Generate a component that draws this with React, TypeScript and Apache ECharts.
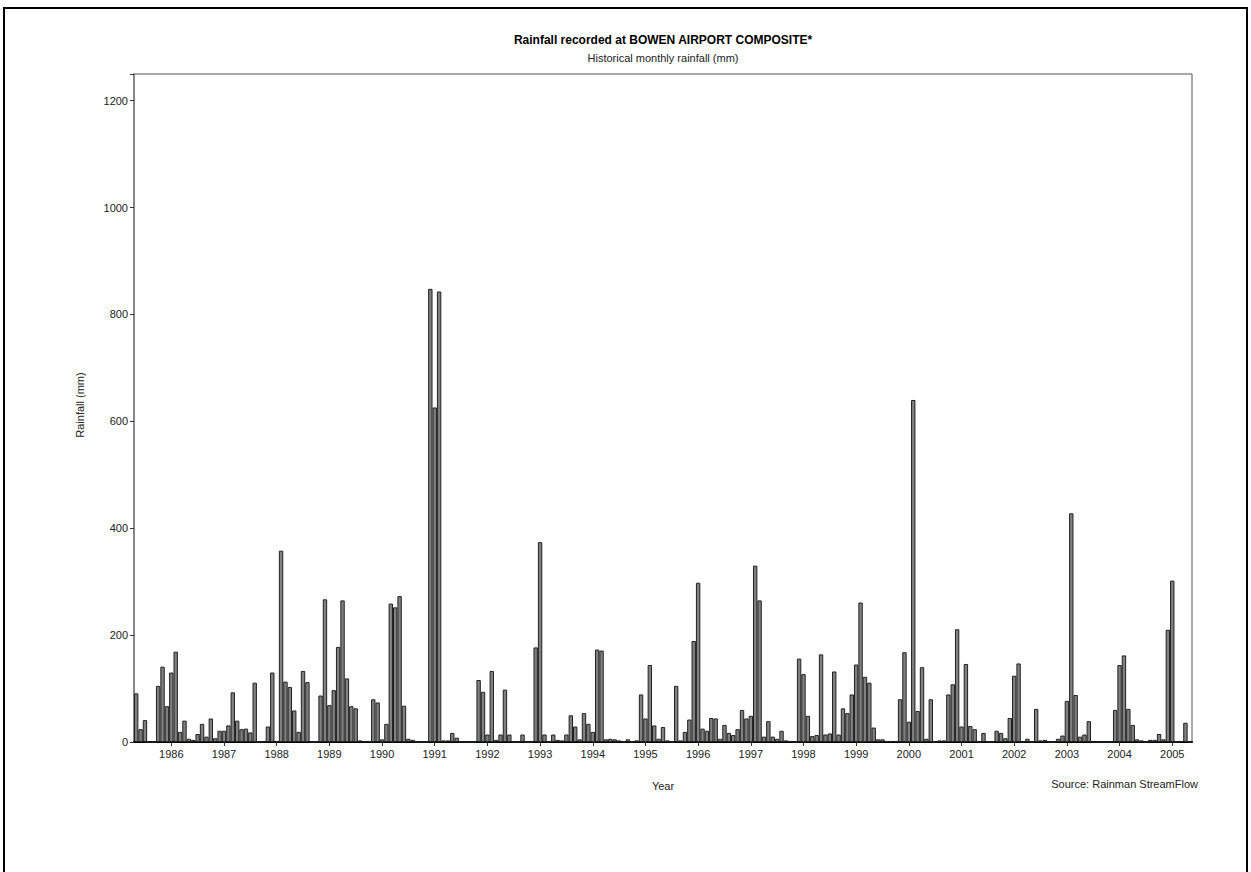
import React, { useEffect, useRef } from "react";
import * as echarts from "echarts";

// Monthly rainfall (mm), Bowen Airport Composite, May 1985 – May 2005
const rain1985 = [91, 24, 41, 0, 0, 105, 141, 67]; // May–Dec
const rain1986 = [130, 169, 19, 40, 6, 4, 15, 34, 10, 44, 7, 21];
const rain1987 = [21, 31, 93, 40, 24, 25, 18, 111, 0, 0, 29, 130];
const rain1988 = [2, 358, 113, 103, 59, 19, 133, 112, 0, 0, 87, 267];
const rain1989 = [69, 97, 178, 265, 119, 67, 63, 3, 1, 2, 80, 74];
const rain1990 = [5, 34, 259, 252, 273, 68, 6, 4, 0, 0, 0, 848];
const rain1991 = [626, 843, 3, 3, 17, 8, 0, 0, 0, 0, 116, 94];
const rain1992 = [14, 133, 4, 14, 98, 14, 0, 0, 14, 0, 0, 177];
const rain1993 = [374, 14, 0, 14, 4, 3, 14, 50, 29, 5, 54, 34];
const rain1994 = [19, 173, 171, 5, 6, 5, 3, 0, 5, 0, 3, 89];
const rain1995 = [44, 144, 31, 6, 28, 3, 0, 105, 3, 19, 42, 189];
const rain1996 = [298, 25, 21, 45, 44, 6, 32, 17, 13, 24, 60, 44];
const rain1997 = [49, 330, 265, 10, 39, 10, 6, 21, 3, 2, 0, 156];
const rain1998 = [127, 49, 11, 13, 164, 14, 16, 132, 14, 63, 54, 89];
const rain1999 = [145, 261, 122, 111, 27, 5, 5, 2, 2, 2, 80, 168];
const rain2000 = [38, 640, 58, 140, 6, 80, 0, 3, 3, 89, 108, 211];
const rain2001 = [29, 146, 30, 24, 0, 17, 0, 0, 21, 17, 7, 45];
const rain2002 = [124, 147, 1, 6, 0, 62, 3, 4, 0, 0, 6, 12];
const rain2003 = [77, 428, 88, 10, 14, 39, 0, 0, 0, 0, 0, 60];
const rain2004 = [144, 162, 62, 32, 5, 3, 0, 4, 4, 15, 5, 210];
const rain2005 = [302, 0, 2, 36, 0]; // Jan–May

const yearBlocks: [number, number, number[]][] = [
  [1985, 5, rain1985], [1986, 1, rain1986], [1987, 1, rain1987], [1988, 1, rain1988],
  [1989, 1, rain1989], [1990, 1, rain1990], [1991, 1, rain1991], [1992, 1, rain1992],
  [1993, 1, rain1993], [1994, 1, rain1994], [1995, 1, rain1995], [1996, 1, rain1996],
  [1997, 1, rain1997], [1998, 1, rain1998], [1999, 1, rain1999], [2000, 1, rain2000],
  [2001, 1, rain2001], [2002, 1, rain2002], [2003, 1, rain2003], [2004, 1, rain2004],
  [2005, 1, rain2005],
];

const yTicks = [0, 200, 400, 600, 800, 1000, 1200];

const categories: string[] = [];
const values: number[] = [];
yearBlocks.forEach(([yr, startMonth, arr]) => {
  arr.forEach((v, i) => {
    const m = startMonth + i;
    categories.push(`${yr}-${m < 10 ? "0" + m : m}`);
    values.push(v);
  });
});

const FONT = "'Liberation Sans', Arial, sans-serif";
const TXT = "#222222";

export default function App() {
  const ref = useRef<HTMLDivElement>(null);
  useEffect(() => {
    if (!ref.current) return;
    const chart = echarts.init(ref.current, undefined, { renderer: "svg" });
    const isJan = (i: number) => !!categories[i] && categories[i].endsWith("-01");
    chart.setOption({
      animation: false,
      backgroundColor: "#ffffff",
      textStyle: { fontFamily: FONT, color: TXT },
      grid: { left: 134, right: 59, top: 74, bottom: 130, show: true, borderColor: "#555", borderWidth: 1, backgroundColor: "transparent" },
      xAxis: {
        type: "category",
        data: categories,
        boundaryGap: true,
        name: "Year",
        nameLocation: "middle",
        nameGap: 38,
        nameTextStyle: { fontFamily: FONT, fontSize: 11, color: TXT },
        axisLine: { show: true, lineStyle: { color: "#000", width: 2 } },
        axisTick: { show: true, alignWithLabel: true, interval: (i: number) => isJan(i), length: 4, lineStyle: { color: "#333" } },
        axisLabel: {
          interval: (i: number) => isJan(i),
          formatter: (v: string) => v.slice(0, 4),
          fontFamily: FONT, fontSize: 11, color: TXT, margin: 6,
        },
        splitLine: { show: false },
      },
      yAxis: {
        type: "value",
        min: 0,
        max: 1250,
        interval: 200,
        axisLine: { show: true, lineStyle: { color: "#888", width: 2 } },
        axisTick: { show: true, length: 4, lineStyle: { color: "#333" } },
        axisLabel: {
          fontFamily: FONT, fontSize: 11, color: TXT, margin: 6,
          formatter: (v: number) => (yTicks.includes(v) ? String(v) : ""),
        },
        splitLine: { show: false },
      },
      series: [
        {
          type: "bar",
          data: values,
          barCategoryGap: "0%",
          itemStyle: { color: "#808080", borderColor: "#222", borderWidth: 1 },
        },
      ],
      graphic: [
        { type: "rect", shape: { x: 4, y: 8, width: 1243, height: 900 }, style: { fill: "none", stroke: "#000", lineWidth: 2 }, silent: true },
        { type: "text", x: 663, y: 40, style: { text: "Rainfall recorded at BOWEN AIRPORT COMPOSITE*", font: `bold 12px ${FONT}`, fill: "#000", textAlign: "center", textVerticalAlign: "middle" } },
        { type: "text", x: 663, y: 58, style: { text: "Historical monthly rainfall (mm)", font: `11px ${FONT}`, fill: TXT, textAlign: "center", textVerticalAlign: "middle" } },
        { type: "text", x: 80, y: 405, rotation: Math.PI / 2, style: { text: "Rainfall (mm)", font: `11px ${FONT}`, fill: TXT, textAlign: "center", textVerticalAlign: "middle" } },
        { type: "text", x: 1198, y: 784, style: { text: "Source: Rainman StreamFlow", font: `11px ${FONT}`, fill: TXT, textAlign: "right", textVerticalAlign: "middle" } },
      ],
    });
    return () => chart.dispose();
  }, []);
  return <div ref={ref} style={{ position: "fixed", left: 0, top: 0, width: 1251, height: 872 }} />;
}
